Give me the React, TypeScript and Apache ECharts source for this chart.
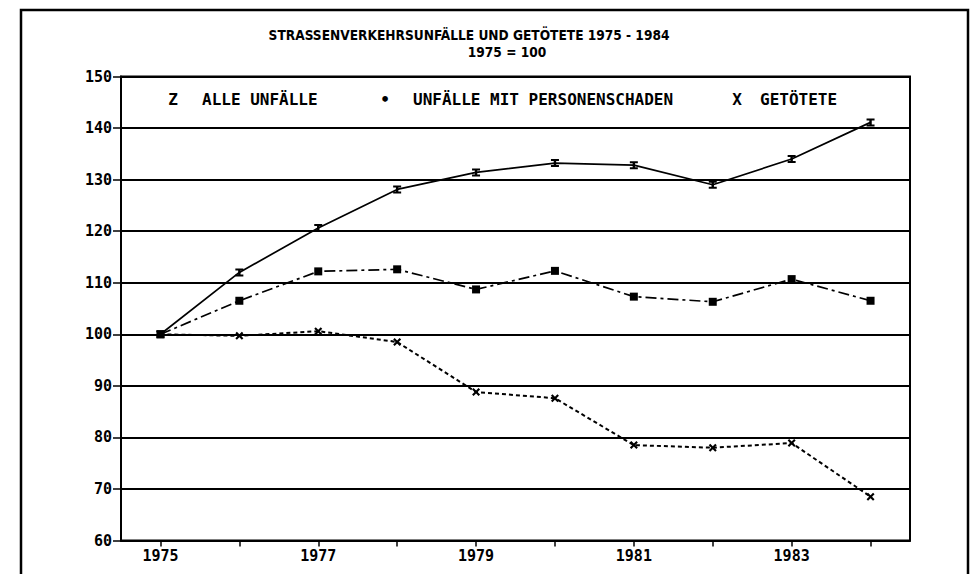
import React, { useEffect, useRef } from "react";
import * as echarts from "echarts";

const years = ["1975", "1976", "1977", "1978", "1979", "1980", "1981", "1982", "1983", "1984"];
const alleUnfaelle = [100, 112.0, 120.6, 128.1, 131.4, 133.2, 132.8, 129.0, 134.0, 141.1];
const personenschaden = [100, 106.5, 112.2, 112.6, 108.7, 112.3, 107.3, 106.3, 110.7, 106.5];
const getoetete = [100, 99.7, 100.6, 98.5, 88.8, 87.6, 78.5, 78.0, 78.9, 68.5];

const titleLine1 = "STRASSENVERKEHRSUNFÄLLE UND GETÖTETE 1975 - 1984";
const titleLine2 = "1975 = 100";
const legendItems = [
  { mark: "Z", label: "ALLE UNFÄLLE" },
  { mark: "•", label: "UNFÄLLE MIT PERSONENSCHADEN" },
  { mark: "X", label: "GETÖTETE" },
];

const MONO = "'DejaVu Sans Mono', monospace";
const COND = "'DejaVu Sans Condensed', 'DejaVu Sans', sans-serif";

export default function App() {
  const ref = useRef<HTMLDivElement>(null);
  useEffect(() => {
    if (!ref.current) return;
    const chart = echarts.init(ref.current, null, { renderer: "svg" });
    const legendPos = [
      { mx: 173, lx: 202 },
      { mx: 385, lx: 413 },
      { mx: 737, lx: 760 },
    ];
    const legendGraphics: any[] = [];
    legendItems.forEach((it, i) => {
      legendGraphics.push({
        type: "text",
        x: legendPos[i].mx,
        y: 99,
        style: { text: it.mark, font: `bold 16px ${MONO}`, fill: "#000", textAlign: "center", textVerticalAlign: "middle" },
      });
      legendGraphics.push({
        type: "text",
        x: legendPos[i].lx,
        y: 99,
        style: { text: it.label, font: `bold 16px ${MONO}`, fill: "#000", textAlign: "left", textVerticalAlign: "middle" },
      });
    });
    chart.setOption({
      animation: false,
      backgroundColor: "#fff",
      grid: { left: 121, right: 66, top: 76.5, bottom: 33.5, show: true, borderColor: "#000", borderWidth: 2 },
      xAxis: {
        type: "category",
        data: years,
        boundaryGap: true,
        axisLine: { show: true, lineStyle: { color: "#000", width: 2 } },
        axisTick: { show: true, alignWithLabel: true, interval: 0, length: 6, lineStyle: { color: "#000", width: 1.5 } },
        axisLabel: { interval: 1, margin: 8, color: "#000", fontFamily: MONO, fontWeight: "bold", fontSize: 15 },
        splitLine: { show: false },
      },
      yAxis: {
        type: "value",
        min: 60,
        max: 150,
        interval: 10,
        axisLine: { show: true, lineStyle: { color: "#000", width: 2 } },
        axisTick: { show: true, length: 8, lineStyle: { color: "#000", width: 1.5 } },
        axisLabel: { margin: 9, color: "#000", fontFamily: MONO, fontWeight: "bold", fontSize: 15 },
        splitLine: { show: true, lineStyle: { color: "#000", width: 2 } },
      },
      graphic: [
        {
          type: "rect",
          shape: { x: 21, y: 10, width: 947, height: 640 },
          style: { fill: "none", stroke: "#000", lineWidth: 2.5 },
          silent: true,
        },
        {
          type: "text",
          x: 469,
          y: 35,
          style: { text: titleLine1, font: `bold 13.6px ${COND}`, fill: "#000", textAlign: "center", textVerticalAlign: "middle" },
        },
        {
          type: "text",
          x: 507,
          y: 51.5,
          style: { text: titleLine2, font: `bold 13.6px ${COND}`, fill: "#000", textAlign: "center", textVerticalAlign: "middle" },
        },
        ...legendGraphics,
      ],
      series: [
        {
          name: "ALLE UNFÄLLE",
          type: "line",
          data: alleUnfaelle,
          symbol: "path://M0 0H8V2.5H5.2V7.5H8V10H0V7.5H2.8V2.5H0Z",
          symbolSize: [8, 8],
          showAllSymbol: true,
          itemStyle: { color: "#000" },
          lineStyle: { color: "#000", width: 1.7, type: "solid" },
          z: 3,
        },
        {
          name: "UNFÄLLE MIT PERSONENSCHADEN",
          type: "line",
          data: personenschaden,
          symbol: "rect",
          symbolSize: 8,
          showAllSymbol: true,
          itemStyle: { color: "#000" },
          lineStyle: { color: "#000", width: 1.7, type: [11, 4, 3, 4] },
          z: 4,
        },
        {
          name: "GETÖTETE",
          type: "line",
          data: getoetete,
          symbol: "path://M0 1.5L1.5 0L4 2.5L6.5 0L8 1.5L5.5 4L8 6.5L6.5 8L4 5.5L1.5 8L0 6.5L2.5 4Z",
          symbolSize: 8,
          showAllSymbol: true,
          itemStyle: { color: "#000" },
          lineStyle: { color: "#000", width: 2, type: [4, 3] },
          z: 3,
        },
      ],
    });
    return () => chart.dispose();
  }, []);
  return (
    <div
      ref={ref}
      style={{ position: "fixed", left: 0, top: 0, width: 976, height: 574, background: "#fff" }}
    />
  );
}
